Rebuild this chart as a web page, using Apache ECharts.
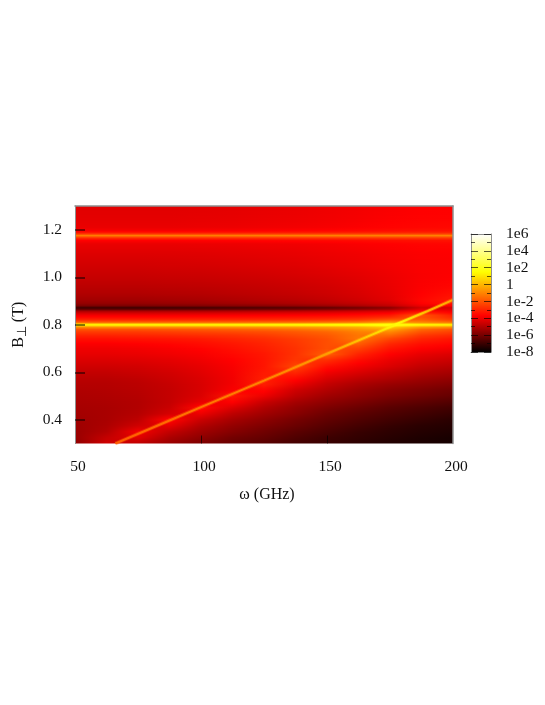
<!DOCTYPE html>
<html><head><meta charset="utf-8">
<script src="https://cdn.jsdelivr.net/npm/echarts@6/dist/echarts.min.js"></script>
<style>html,body{margin:0;padding:0;background:#fff}#c{width:545px;height:705px}</style>
</head><body><div id="c"></div>
<script>
// log10 of the plotted quantity
const omegaColumns = [50,62.5,75,87.5,100,112.5,125,137.5,150,162.5,175,187.5,200];
const fieldRows = [1.30,1.25,1.21,1.195,1.187,1.181,1.175,1.17,1.163,1.155,1.14,1.10,1.05,1.00,0.96,0.93,0.905,0.89,0.88,0.872,0.866,0.858,0.85,0.84,0.83,0.82,0.81,0.804,0.80,0.796,0.79,0.78,0.77,0.755,0.74,0.72,0.70,0.675,0.65,0.625,0.60,0.575,0.55,0.525,0.50,0.475,0.45,0.425,0.40,0.375,0.35,0.325,0.30];
const logValues = [
[-4.20,-4.20,-4.20,-4.20,-4.18,-4.15,-4.10,-4.05,-3.98,-3.90,-3.80,-3.72,-3.70],
[-4.15,-4.15,-4.15,-4.15,-4.12,-4.10,-4.05,-4.00,-3.93,-3.85,-3.75,-3.68,-3.66],
[-4.05,-4.05,-4.05,-4.05,-4.02,-4.00,-3.95,-3.90,-3.83,-3.75,-3.66,-3.58,-3.55],
[-3.80,-3.80,-3.80,-3.80,-3.78,-3.75,-3.70,-3.65,-3.60,-3.52,-3.45,-3.38,-3.35],
[-3.20,-3.20,-3.20,-3.20,-3.18,-3.16,-3.12,-3.08,-3.04,-3.00,-2.96,-2.92,-2.90],
[-2.30,-2.30,-2.30,-2.30,-2.28,-2.26,-2.24,-2.22,-2.20,-2.18,-2.14,-2.12,-2.10],
[-1.00,-1.00,-1.00,-1.00,-1.00,-0.98,-0.98,-0.96,-0.95,-0.94,-0.92,-0.90,-0.90],
[-2.10,-2.10,-2.10,-2.10,-2.10,-2.08,-2.06,-2.04,-2.02,-2.00,-1.96,-1.94,-1.92],
[-3.00,-3.00,-3.00,-3.00,-2.98,-2.96,-2.94,-2.92,-2.88,-2.84,-2.80,-2.76,-2.74],
[-3.70,-3.70,-3.70,-3.70,-3.68,-3.65,-3.62,-3.58,-3.54,-3.48,-3.42,-3.36,-3.34],
[-4.05,-4.05,-4.05,-4.05,-4.02,-4.00,-3.96,-3.92,-3.86,-3.78,-3.70,-3.62,-3.60],
[-4.25,-4.25,-4.25,-4.24,-4.22,-4.18,-4.14,-4.08,-4.00,-3.92,-3.82,-3.74,-3.72],
[-4.45,-4.45,-4.45,-4.43,-4.40,-4.36,-4.30,-4.24,-4.14,-4.03,-3.90,-3.78,-3.74],
[-4.65,-4.65,-4.65,-4.62,-4.60,-4.55,-4.50,-4.42,-4.32,-4.18,-4.00,-3.80,-3.72],
[-4.85,-4.85,-4.85,-4.82,-4.79,-4.73,-4.67,-4.58,-4.46,-4.28,-4.05,-3.76,-3.60],
[-5.02,-5.02,-5.02,-4.98,-4.94,-4.86,-4.78,-4.68,-4.55,-4.36,-4.10,-3.70,-3.40],
[-5.25,-5.25,-5.25,-5.20,-5.15,-5.05,-4.95,-4.85,-4.70,-4.48,-4.18,-3.60,-3.20],
[-5.50,-5.50,-5.50,-5.45,-5.40,-5.30,-5.20,-5.08,-4.92,-4.72,-4.45,-3.70,-3.30],
[-5.90,-5.90,-5.90,-5.85,-5.80,-5.72,-5.65,-5.52,-5.35,-5.10,-4.75,-4.00,-3.70],
[-6.90,-6.90,-6.90,-6.85,-6.80,-6.70,-6.60,-6.50,-6.30,-6.00,-5.60,-4.40,-4.40],
[-6.60,-6.60,-6.60,-6.55,-6.50,-6.40,-6.30,-6.20,-6.00,-5.75,-5.35,-4.20,-4.30],
[-5.20,-5.20,-5.20,-5.18,-5.15,-5.10,-5.02,-4.94,-4.80,-4.60,-4.35,-3.60,-3.90],
[-4.50,-4.50,-4.50,-4.48,-4.45,-4.40,-4.35,-4.28,-4.18,-4.02,-3.80,-3.00,-3.60],
[-3.90,-3.90,-3.90,-3.88,-3.85,-3.82,-3.78,-3.72,-3.64,-3.50,-3.25,-2.00,-3.10],
[-3.45,-3.45,-3.45,-3.43,-3.40,-3.37,-3.33,-3.27,-3.19,-3.05,-2.70,-2.00,-2.80],
[-2.90,-2.90,-2.90,-2.88,-2.85,-2.82,-2.78,-2.72,-2.62,-2.45,-1.90,-1.70,-2.40],
[-1.70,-1.70,-1.70,-1.68,-1.65,-1.62,-1.56,-1.50,-1.38,-1.18,-0.60,-1.00,-1.40],
[0.30,0.30,0.30,0.32,0.35,0.38,0.42,0.50,0.60,0.80,1.20,0.50,0.20],
[1.50,1.50,1.50,1.50,1.50,1.52,1.54,1.56,1.60,1.66,1.80,1.55,1.40],
[0.80,0.80,0.80,0.82,0.85,0.88,0.92,0.98,1.08,1.20,1.60,0.90,0.70],
[-0.80,-0.80,-0.80,-0.75,-0.70,-0.65,-0.60,-0.50,-0.35,-0.10,0.50,-0.50,-0.80],
[-2.00,-2.00,-2.00,-1.95,-1.85,-1.75,-1.60,-1.40,-1.10,-0.70,-0.30,-1.60,-2.00],
[-2.50,-2.50,-2.50,-2.40,-2.30,-2.20,-2.10,-1.90,-1.60,-1.10,-0.90,-2.00,-2.40],
[-3.00,-3.00,-2.95,-2.90,-2.80,-2.70,-2.50,-2.20,-1.90,-1.30,-1.60,-2.60,-2.90],
[-3.40,-3.40,-3.35,-3.30,-3.20,-3.00,-2.80,-2.50,-2.10,-1.30,-2.30,-3.00,-3.30],
[-3.75,-3.75,-3.70,-3.60,-3.45,-3.25,-3.00,-2.60,-2.10,-1.80,-2.90,-3.40,-3.60],
[-3.95,-3.95,-3.90,-3.80,-3.65,-3.40,-3.10,-2.70,-2.10,-2.40,-3.30,-3.70,-3.90],
[-4.10,-4.10,-4.05,-3.95,-3.80,-3.55,-3.25,-2.70,-1.80,-3.00,-3.70,-4.10,-4.30],
[-4.30,-4.30,-4.25,-4.15,-3.95,-3.70,-3.30,-2.60,-2.80,-3.50,-4.05,-4.40,-4.60],
[-4.50,-4.50,-4.45,-4.30,-4.10,-3.80,-3.30,-2.30,-3.40,-3.90,-4.30,-4.70,-4.90],
[-4.70,-4.70,-4.60,-4.45,-4.20,-3.85,-3.20,-2.90,-3.90,-4.30,-4.70,-5.00,-5.20],
[-4.85,-4.85,-4.75,-4.55,-4.30,-3.90,-3.10,-3.50,-4.30,-4.70,-5.00,-5.30,-5.50],
[-4.95,-4.95,-4.85,-4.65,-4.35,-3.90,-3.10,-4.00,-4.70,-5.10,-5.40,-5.60,-5.80],
[-5.05,-5.00,-4.90,-4.70,-4.35,-3.80,-3.60,-4.50,-5.00,-5.40,-5.70,-5.90,-6.10],
[-5.10,-5.05,-4.95,-4.70,-4.30,-3.30,-4.00,-4.80,-5.30,-5.60,-5.90,-6.10,-6.30],
[-5.15,-5.10,-5.00,-4.70,-4.10,-3.70,-4.60,-5.20,-5.60,-5.90,-6.20,-6.40,-6.60],
[-5.20,-5.15,-5.00,-4.60,-3.50,-4.30,-5.00,-5.50,-5.90,-6.20,-6.50,-6.70,-6.90],
[-5.25,-5.15,-4.95,-4.40,-4.00,-4.80,-5.30,-5.70,-6.15,-6.45,-6.70,-6.90,-7.10],
[-5.30,-5.15,-4.80,-3.60,-4.60,-5.20,-5.60,-6.00,-6.35,-6.65,-6.90,-7.10,-7.30],
[-5.35,-5.10,-4.50,-4.10,-5.00,-5.50,-5.85,-6.20,-6.55,-6.85,-7.10,-7.30,-7.40],
[-5.40,-5.00,-3.90,-4.70,-5.30,-5.75,-6.10,-6.45,-6.75,-7.05,-7.25,-7.40,-7.50],
[-5.45,-4.70,-4.20,-5.10,-5.60,-6.05,-6.30,-6.65,-6.95,-7.15,-7.35,-7.50,-7.60],
[-5.60,-4.50,-4.80,-5.40,-5.90,-6.25,-6.50,-6.85,-7.05,-7.25,-7.45,-7.55,-7.65]
];
// the narrow diagonal ridge
const ridgeOmega = [66,87.5,100,125,150,170,177,190,200];
const ridgeField = [0.30,0.397,0.453,0.565,0.678,0.768,0.80,0.858,0.905];
const ridgePeak = [-1.8,-1.5,-1.3,-1.0,-0.5,0.8,1.6,0.0,-0.3];
const colorStops = [[-8,[0,0,0]],[-3.7,[255,0,0]],[1.5,[255,255,0]],[6,[255,255,255]]];
const xTicks = [50,100,150,200];
const yTicks = [0.4,0.6,0.8,1.0,1.2];
const barTicks = ['1e-8','1e-6','1e-4','1e-2','1','1e2','1e4','1e6'];

function colorOf(v){
  v=Math.max(-8,Math.min(6,v));
  for(let i=1;i<colorStops.length;i++){
    const a=colorStops[i-1],b=colorStops[i];
    if(v<=b[0]){const t=(v-a[0])/(b[0]-a[0]);
      const c=a[1].map((x,k)=>Math.round(x+(b[1][k]-x)*t));
      return 'rgb('+c.join(',')+')';}
  }
  return 'rgb(255,255,255)';
}
const first=omegaColumns[0],last=omegaColumns[omegaColumns.length-1],span=last-first;
// one band between each pair of neighbouring read rows; shaded between them like the original's smooth map
const bandData=fieldRows.slice(0,-1).map((b,i)=>[b,fieldRows[i+1],i]);
function renderBand(params,api){
  const hi=api.value(0),lo=api.value(1),i=api.value(2);
  const p0=api.coord([first,hi]),p1=api.coord([last,lo]);
  const y0=Math.round(p0[1]),y1=Math.round(p1[1]);
  const children=[];
  for(let y=y0;y<Math.max(y1,y0+1);y++){
    const t=Math.max(0,Math.min(1,(y+0.5-p0[1])/(p1[1]-p0[1])));
    children.push({type:'rect',shape:{x:p0[0],y:y,width:p1[0]-p0[0],height:1},
      style:{fill:{type:'linear',x:0,y:0,x2:1,y2:0,colorStops:omegaColumns.map((w,k)=>({
        offset:(w-first)/span,
        color:colorOf(logValues[i][k]+(logValues[i+1][k]-logValues[i][k])*t)}))}}});
  }
  return {type:'group',children};
}
function renderBar(params,api){
  const p0=api.coord([0,api.value(1)]),p1=api.coord([1,api.value(0)]);
  const lo=api.value(0),hi=api.value(1);
  return {type:'rect',shape:{x:p0[0],y:p0[1],width:p1[0]-p0[0],height:p1[1]-p0[1]},
    style:{fill:{type:'linear',x:0,y:0,x2:0,y2:1,colorStops:colorStops.map(s=>({offset:(hi-s[0])/(hi-lo),color:colorOf(s[0])})).reverse()}}};
}
const ridgeGradient={type:'linear',x:0,y:0,x2:1,y2:0,colorStops:ridgeOmega.map((w,i)=>({offset:(w-ridgeOmega[0])/(ridgeOmega[ridgeOmega.length-1]-ridgeOmega[0]),color:colorOf(ridgePeak[i])}))};
const ridgeData=ridgeOmega.map((w,i)=>[w,ridgeField[i]]);
const serif='"Liberation Serif","Times New Roman",serif';
const tick='rgba(0,0,0,0.65)';
const gray='#8f8f8f';
const chart=echarts.init(document.getElementById('c'),null,{renderer:'canvas'});
chart.setOption({
  animation:false,backgroundColor:'#fff',
  grid:[{left:75,top:206,width:378,height:237.5,outerBoundsMode:'none'},{left:471,top:234,width:20,height:118,outerBoundsMode:'none'}],
  xAxis:[
    {gridIndex:0,type:'value',min:50,max:200,interval:50,z:5,silent:true,
     name:'ω (GHz)',nameLocation:'middle',nameGap:43,nameTextStyle:{fontFamily:serif,fontSize:16,color:'#111',padding:[0,0,0,6]},
     axisLine:{show:false},splitLine:{show:false},
     axisTick:{show:true,inside:true,length:8,customValues:xTicks.slice(1,3),lineStyle:{color:tick}},
     axisLabel:{margin:15,fontFamily:serif,fontSize:15.5,color:'#111',padding:[0,0,0,6]}},
    {gridIndex:0,type:'value',position:'top',min:50,max:200,z:5,silent:true,
     axisLine:{show:true,onZero:false,lineStyle:{color:gray,width:1.5}},axisTick:{show:false},axisLabel:{show:false},splitLine:{show:false}},
    {gridIndex:1,type:'value',min:0,max:1,show:false},
    {gridIndex:1,type:'value',position:'top',min:0,max:1,z:5,silent:true,
     axisLine:{show:true,onZero:false,lineStyle:{color:gray}},axisTick:{show:false},axisLabel:{show:false},splitLine:{show:false}},
    {gridIndex:1,type:'value',position:'bottom',min:0,max:1,z:5,silent:true,
     axisLine:{show:true,onZero:false,lineStyle:{color:gray}},axisTick:{show:false},axisLabel:{show:false},splitLine:{show:false}}
  ],
  yAxis:[
    {gridIndex:0,type:'value',min:0.3,max:1.3,z:5,silent:true,
     name:'{b|B}{s|⊥}{b| (T)}',nameLocation:'middle',nameGap:46,nameRotate:90,
     nameTextStyle:{rich:{b:{fontFamily:serif,fontSize:16,color:'#111'},s:{fontFamily:serif,fontSize:13,color:'#111',padding:[7,0,0,0]}}},
     axisLine:{show:true,onZero:false,lineStyle:{color:gray}},splitLine:{show:false},
     axisTick:{show:true,inside:true,length:10,customValues:yTicks,lineStyle:{color:tick,width:1.5}},
     axisLabel:{margin:13,fontFamily:serif,fontSize:15.5,color:'#111',customValues:yTicks,formatter:v=>v.toFixed(1)}},
    {gridIndex:0,type:'value',position:'right',min:0.3,max:1.3,z:5,silent:true,
     axisLine:{show:true,onZero:false,lineStyle:{color:gray,width:1.5}},axisTick:{show:false},axisLabel:{show:false},splitLine:{show:false}},
    {gridIndex:1,type:'value',position:'right',min:-8,max:6,interval:2,z:5,silent:true,
     axisLine:{show:true,onZero:false,lineStyle:{color:gray}},splitLine:{show:false},
     axisTick:{show:true,inside:true,length:7,lineStyle:{color:tick}},
     minorTick:{show:true,splitNumber:2,length:4,lineStyle:{color:tick}},minorSplitLine:{show:false},
     axisLabel:{margin:15,fontFamily:serif,fontSize:15.5,color:'#111',formatter:v=>barTicks[(v+8)/2]}},
    {gridIndex:1,type:'value',position:'left',min:-8,max:6,interval:2,z:5,silent:true,
     axisLine:{show:true,onZero:false,lineStyle:{color:gray}},splitLine:{show:false},
     axisTick:{show:true,inside:true,length:7,lineStyle:{color:tick}},
     minorTick:{show:true,splitNumber:2,length:4,lineStyle:{color:tick}},axisLabel:{show:false}}
  ],
  series:[
    {type:'custom',xAxisIndex:0,yAxisIndex:0,coordinateSystem:'cartesian2d',data:bandData,renderItem:renderBand,silent:true,clip:true,encode:{x:[],y:[0,1]}},
    {type:'line',xAxisIndex:0,yAxisIndex:0,data:ridgeData,symbol:'none',silent:true,z:3,clip:true,lineStyle:{width:4,opacity:0.35,color:ridgeGradient}},
    {type:'line',xAxisIndex:0,yAxisIndex:0,data:ridgeData,symbol:'none',silent:true,z:3,clip:true,lineStyle:{width:2,color:ridgeGradient}},
    {type:'custom',xAxisIndex:2,yAxisIndex:2,coordinateSystem:'cartesian2d',data:[[-8,6]],renderItem:renderBar,silent:true,encode:{x:[],y:[0,1]}}
  ]
});
</script></body></html>
